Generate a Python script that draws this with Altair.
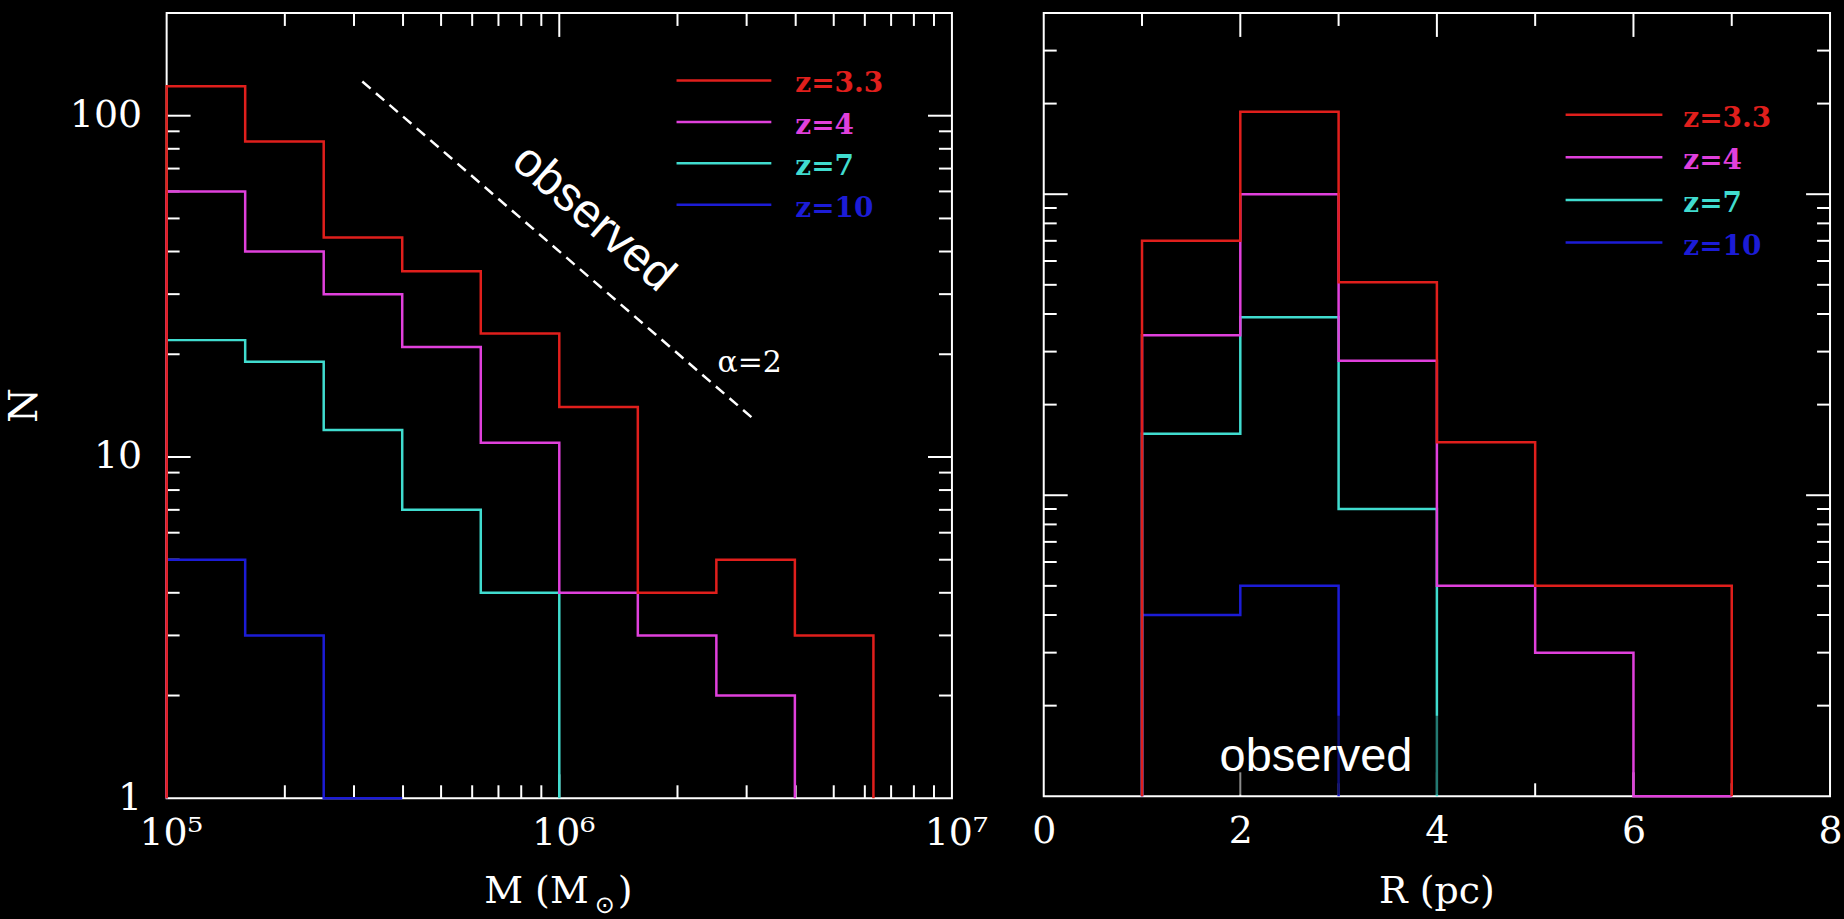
import altair as alt
import pandas as pd

# ---------------- data ----------------
SERIES = ["z=3.3", "z=4", "z=7", "z=10"]
COLORS = ["#e01f1c", "#e040dc", "#40dccf", "#1c1cd6"]

# cluster mass histogram, 0.2 dex bins starting at 1e5 Msun
mass_edges = [1.0e5, 1.585e5, 2.512e5, 3.981e5, 6.310e5, 1.0e6, 1.585e6, 2.512e6, 3.981e6, 6.310e6]
mass_z33 = [122, 84, 44, 35, 23, 14, 4, 5, 3]
mass_z4 = [60, 40, 30, 21, 11, 4, 3, 2]
mass_z7 = [22, 19, 12, 7, 4]
mass_z10 = [5, 3, 1]

# cluster radius histogram, 1 pc bins starting at 1 pc
radius_edges = [1, 2, 3, 4, 5, 6, 7]
radius_z33 = [70, 188, 51, 15, 5, 5]
radius_z4 = [34, 100, 28, 5, 3, 1]
radius_z7 = [16, 39, 9]
radius_z10 = [4, 5]

# observed slope guide (alpha = 2 mass function) endpoints
guide_mass = [3.15e5, 3.18e6]
guide_n = [126, 12.7]

# axis ranges and tick values
mass_domain = [1e5, 1e7]
n_domain_left = [1, 200]
radius_domain = [0, 8]
n_domain_right = [1, 400]

mass_label_values = [1e5, 1e6, 1e7]
n_label_values = [1, 10, 100]
radius_label_values = [0, 2, 4, 6, 8]

mass_ticks_major = [1e6]
mass_ticks_minor = [2e5, 3e5, 4e5, 5e5, 6e5, 7e5, 8e5, 9e5, 2e6, 3e6, 4e6, 5e6, 6e6, 7e6, 8e6, 9e6]
n_left_ticks_major = [10, 100]
n_left_ticks_minor = [2, 3, 4, 5, 6, 7, 8, 9, 20, 30, 40, 50, 60, 70, 80, 90]
radius_ticks_major = [2, 4, 6]
radius_ticks_minor = [1, 3, 5, 7]
n_right_ticks_major = [10, 100]
n_right_ticks_minor = [2, 3, 4, 5, 6, 7, 8, 9, 20, 30, 40, 50, 60, 70, 80, 90, 200, 300]

# ---------------- layout / style ----------------
W_L, H_L = 787, 787
W_R, H_R = 788, 785
MAJOR, MINOR = 24, 13
LABEL_FONT = "DejaVu Serif"
LABEL_SIZE = 38
TITLE_SIZE = 38
LINE_W = 2.5


def axis_common(**kw):
    return alt.Axis(title=None, ticks=False, tickSize=0, domain=False, grid=False,
                    labelFont=LABEL_FONT, labelFontSize=LABEL_SIZE, labelColor="white",
                    labelFlush=False, labelOverlap=False, **kw)


class Panel:
    """Shared scales/axes of one plot panel; every layer gets identical definitions."""

    def __init__(self, xscale, yscale, xaxis, yaxis, w, h):
        self.xscale, self.yscale = xscale, yscale
        self.xaxis, self.yaxis = xaxis, yaxis
        self.w, self.h = w, h

    def X(self, field):
        return alt.X(field, scale=self.xscale, axis=self.xaxis)

    def Y(self, field):
        return alt.Y(field, scale=self.yscale, axis=self.yaxis)


def step_frame(edges, counts, floor):
    """Points for a step-after histogram outline that rises from and returns to the floor."""
    k = len(counts)
    xs = [edges[0]] + list(edges[:k + 1])
    ys = [floor] + list(counts) + [floor]
    return pd.DataFrame({"x": xs, "n": ys, "i": list(range(len(xs)))})


def hist_layer(p, edges, counts, color, floor):
    df = step_frame(edges, counts, floor)
    return alt.Chart(df).mark_line(interpolate="step-after", color=color, strokeWidth=LINE_W).encode(
        x=p.X("x:Q"), y=p.Y("n:Q"), order=alt.Order("i:Q"))


def tick_layers(p, x_major, x_minor, y_major, y_minor):
    layers = []
    for vals, length in ((x_major, MAJOR), (x_minor, MINOR)):
        d = pd.DataFrame({"v": vals})
        layers.append(alt.Chart(d).mark_rule(color="white", strokeWidth=2).encode(
            x=p.X("v:Q"), y=alt.value(p.h), y2=alt.value(p.h - length)))
        layers.append(alt.Chart(d).mark_rule(color="white", strokeWidth=2).encode(
            x=p.X("v:Q"), y=alt.value(0), y2=alt.value(length)))
    for vals, length in ((y_major, MAJOR), (y_minor, MINOR)):
        d = pd.DataFrame({"v": vals})
        layers.append(alt.Chart(d).mark_rule(color="white", strokeWidth=2).encode(
            y=p.Y("v:Q"), x=alt.value(0), x2=alt.value(length)))
        layers.append(alt.Chart(d).mark_rule(color="white", strokeWidth=2).encode(
            y=p.Y("v:Q"), x=alt.value(p.w), x2=alt.value(p.w - length)))
    return layers


def legend_layers(x0, x1, tx, y0, dy):
    out = []
    for i, (lab, col) in enumerate(zip(SERIES, COLORS)):
        y = y0 + i * dy
        d = pd.DataFrame({"label": [lab]})
        out.append(alt.Chart(d).mark_rule(color=col, strokeWidth=LINE_W).encode(
            x=alt.value(x0), x2=alt.value(x1), y=alt.value(y)))
        out.append(alt.Chart(d).mark_text(color=col, align="left", baseline="middle",
                                          font=LABEL_FONT, fontSize=28, fontWeight="bold").encode(
            text="label:N", x=alt.value(tx), y=alt.value(y + 4)))
    return out


def text_at(txt, x, y, **kw):
    d = pd.DataFrame({"t": [txt]})
    return alt.Chart(d).mark_text(color="white", **kw).encode(
        text="t:N", x=alt.value(x), y=alt.value(y))


def data_text(p, x, n, txt, **kw):
    d = pd.DataFrame({"x": [x], "n": [n], "t": [txt]})
    return alt.Chart(d).mark_text(color="white", **kw).encode(x=p.X("x:Q"), y=p.Y("n:Q"), text="t:N")


# ---------------- left panel: mass function ----------------
left_p = Panel(
    alt.Scale(type="log", domain=mass_domain, nice=False),
    alt.Scale(type="log", domain=n_domain_left, nice=False),
    axis_common(
        values=mass_label_values,
        labelExpr="datum.value < 300000 ? '10⁵' : (datum.value < 3000000 ? '10⁶' : '10⁷')",
        labelPadding=16, labelOffset=4,
    ),
    axis_common(values=n_label_values, format="d", labelPadding=25),
    W_L, H_L,
)

mass_counts = [mass_z33, mass_z4, mass_z7, mass_z10]
left_layers = tick_layers(left_p, mass_ticks_major, mass_ticks_minor, n_left_ticks_major, n_left_ticks_minor)
# blue drawn first, red last (on top)
for idx in (3, 2, 1, 0):
    left_layers.append(hist_layer(left_p, mass_edges, mass_counts[idx], COLORS[idx], 1))

guide_df = pd.DataFrame({"x": guide_mass, "n": guide_n})
left_layers.append(
    alt.Chart(guide_df).mark_line(color="white", strokeWidth=2.5, strokeDash=[11, 7]).encode(
        x=left_p.X("x:Q"), y=left_p.Y("n:Q"))
)
left_layers.append(data_text(left_p, 1.22e6, 50, "observed", font="Liberation Sans", fontSize=48,
                             angle=41, align="center", baseline="middle"))
left_layers.append(data_text(left_p, 2.53e6, 18.8, "α=2", font=LABEL_FONT, fontSize=30,
                             align="left", baseline="middle"))
left_layers += legend_layers(511, 606, 630, 67.7, 41.5)
# axis titles
left_layers.append(text_at("N", -142, H_L / 2, font=LABEL_FONT, fontSize=40, angle=270,
                           align="center", baseline="middle"))
left_layers.append(text_at("M (M", 423, 892, font=LABEL_FONT, fontSize=TITLE_SIZE,
                           align="right", baseline="alphabetic"))
left_layers.append(text_at("⊙", 439, 895, font="DejaVu Sans", fontSize=24,
                           align="center", baseline="middle"))
left_layers.append(text_at(")", 452, 892, font=LABEL_FONT, fontSize=TITLE_SIZE,
                           align="left", baseline="alphabetic"))

left = alt.layer(*left_layers).properties(width=W_L, height=H_L)

# ---------------- right panel: size distribution ----------------
right_p = Panel(
    alt.Scale(type="linear", domain=radius_domain, nice=False, zero=False),
    alt.Scale(type="log", domain=n_domain_right, nice=False),
    axis_common(values=radius_label_values, format="d", labelPadding=16),
    None,
    W_R, H_R,
)

radius_counts = [radius_z33, radius_z4, radius_z7, radius_z10]
right_layers = tick_layers(right_p, radius_ticks_major, radius_ticks_minor,
                           n_right_ticks_major, n_right_ticks_minor)
for idx in (3, 2, 1, 0):
    right_layers.append(hist_layer(right_p, radius_edges, radius_counts[idx], COLORS[idx], 1))

# translucent backing box of the "observed" caption
box_df = pd.DataFrame({"x": [1.58], "x2": [4.12], "n": [1.012], "n2": [1.85]})
right_layers.append(
    alt.Chart(box_df).mark_rect(color="black", opacity=0.45).encode(
        x=right_p.X("x:Q"), x2="x2:Q", y=right_p.Y("n:Q"), y2="n2:Q")
)
right_layers.append(data_text(right_p, 2.77, 1.21, "observed", font="Liberation Sans", fontSize=47,
                              align="center", baseline="alphabetic"))
right_layers += legend_layers(523, 620, 641, 102, 42.7)
right_layers.append(text_at("R (pc)", W_R / 2, 892, font=LABEL_FONT, fontSize=TITLE_SIZE,
                            align="center", baseline="alphabetic"))

right = alt.layer(*right_layers).properties(width=W_R, height=H_R)

chart = (
    alt.hconcat(left, right, spacing=92, bounds="flush")
    .properties(padding={"left": 4, "top": 10, "right": 0, "bottom": 0})
    .configure(background="black")
    .configure_view(stroke="white", strokeWidth=2)
)

chart.save("out.html", embed_options={"renderer": "svg", "actions": False})
